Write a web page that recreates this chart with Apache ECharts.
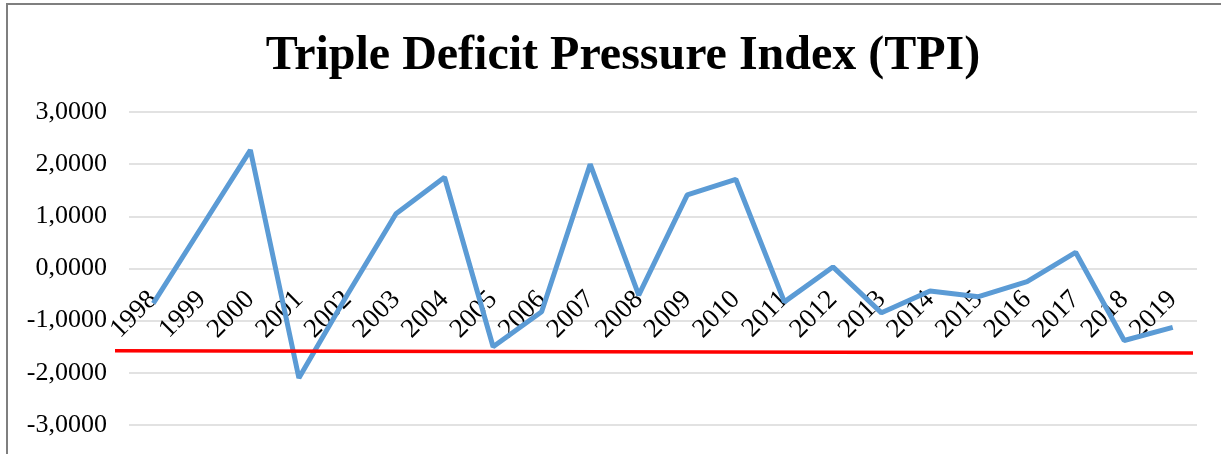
<!DOCTYPE html>
<html>
<head>
<meta charset="utf-8">
<script src="https://cdn.jsdelivr.net/npm/echarts@6/dist/echarts.min.js"></script>
<style>
  html, body { margin: 0; padding: 0; background: #ffffff; }
  #frame { position: absolute; left: 6px; top: 3px; width: 1240px; height: 470px; border-left: 2px solid #7f7f7f; border-top: 2px solid #7f7f7f; }
  #chart { position: absolute; left: 0; top: 0; width: 1221px; height: 454px; }
</style>
</head>
<body>
<div id="frame"></div>
<div id="chart"></div>
<script>
const titleText = 'Triple Deficit Pressure Index (TPI)';
const years = ['1998','1999','2000','2001','2002','2003','2004','2005','2006','2007','2008','2009','2010','2011','2012','2013','2014','2015','2016','2017','2018','2019'];
const tpiValues = [-0.67, 0.80, 2.27, -2.10, -0.50, 1.05, 1.75, -1.50, -0.83, 2.00, -0.51, 1.41, 1.71, -0.64, 0.03, -0.85, -0.43, -0.54, -0.25, 0.31, -1.38, -1.13];
// hand-drawn red reference line: start and end level
const thresholdLine = [[0, -1.575], [1, -1.62]];
const yTicks = { min: -3, max: 3, interval: 1 };

const fmt = v => v.toFixed(4).replace('.', ',');
const serif = '"Liberation Serif", "Times New Roman", serif';

const gridTop = 112, gridBottom = 29, chartH = 454;
const plotH = chartH - gridTop - gridBottom;
// place the category axis at y = 0 of the value axis
const zeroOffset = -plotH * (0 - yTicks.min) / (yTicks.max - yTicks.min);

const chart = echarts.init(document.getElementById('chart'), null, { renderer: 'canvas' });
chart.setOption({
  animation: false,
  backgroundColor: 'transparent',
  title: {
    text: titleText,
    left: 618,
    textAlign: 'center',
    top: 28,
    textStyle: { fontFamily: serif, fontWeight: 'bold', fontSize: 48, color: '#000' }
  },
  grid: [
    { left: 129, right: 24, top: gridTop, bottom: gridBottom, containLabel: false, outerBoundsMode: 'none' },
    { left: 115, right: 28, top: gridTop, bottom: gridBottom, containLabel: false, outerBoundsMode: 'none' }
  ],
  xAxis: [
    {
      type: 'category',
      gridIndex: 0,
      data: years,
      boundaryGap: true,
      position: 'bottom',
      offset: zeroOffset,
      axisLine: { show: false, onZero: false },
      axisTick: { show: false },
      axisLabel: { rotate: 45, margin: 27, fontFamily: serif, fontSize: 27, color: '#000', interval: 0 },
      splitLine: { show: false }
    },
    {
      type: 'value',
      gridIndex: 1,
      min: 0,
      max: 1,
      show: false
    }
  ],
  yAxis: [
    {
      type: 'value',
      gridIndex: 0,
      min: yTicks.min,
      max: yTicks.max,
      interval: yTicks.interval,
      axisLine: { show: false },
      axisTick: { show: false },
      axisLabel: { formatter: fmt, margin: 22, fontFamily: serif, fontSize: 26, color: '#000' },
      splitLine: { lineStyle: { color: '#d9d9d9', width: 1.5 } }
    },
    {
      type: 'value',
      gridIndex: 1,
      min: yTicks.min,
      max: yTicks.max,
      interval: yTicks.interval,
      show: false
    }
  ],
  series: [
    {
      type: 'line',
      data: tpiValues,
      xAxisIndex: 0,
      yAxisIndex: 0,
      symbol: 'none',
      lineStyle: { color: '#5b9bd5', width: 5 },
      z: 3
    },
    {
      type: 'line',
      data: thresholdLine,
      xAxisIndex: 1,
      yAxisIndex: 1,
      symbol: 'none',
      lineStyle: { color: '#ff0000', width: 3.5 },
      z: 4
    }
  ]
});
</script>
</body>
</html>
